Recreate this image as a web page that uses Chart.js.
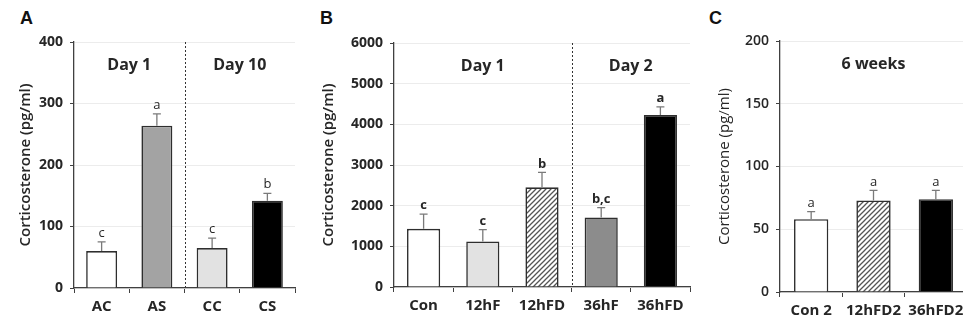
<!DOCTYPE html>
<html>
<head>
<meta charset="utf-8">
<script src="https://cdn.jsdelivr.net/npm/chart.js@4.4.1/dist/chart.umd.min.js"></script>
<style>
  html, body { margin: 0; padding: 0; background: #fff; overflow: hidden; }
  body { width: 963px; height: 325px; position: relative; }
  .panel { position: absolute; top: 0; height: 325px; }
  .letter { position: absolute; font: bold 18px 'Liberation Sans', Arial, sans-serif; color: #111; }
</style>
</head>
<body>
<div class="letter" style="left:20px;top:8px">A</div>
<div class="letter" style="left:320px;top:8px">B</div>
<div class="letter" style="left:709px;top:8px">C</div>
<div class="panel" id="wrapA" style="left:0;width:310px"><canvas id="chartA"></canvas></div>
<div class="panel" id="wrapB" style="left:310px;width:390px"><canvas id="chartB"></canvas></div>
<div class="panel" id="wrapC" style="left:700px;width:300px"><canvas id="chartC"></canvas></div>
<script>
// ── Data ─────────────────────────────────────────────────────────────
const catsA  = ['AC', 'AS', 'CC', 'CS'];
const meanA  = [60, 264, 65, 142];
const errA   = [15, 19, 16, 12];
const sigA   = ['c', 'a', 'c', 'b'];
const groupsA = [{ label: 'Day 1', from: 0, to: 1 }, { label: 'Day 10', from: 2, to: 3 }];

const catsB  = ['Con', '12hF', '12hFD', '36hF', '36hFD'];
const meanB  = [1430, 1120, 2450, 1710, 4230];
const errB   = [360, 290, 370, 240, 200];
const sigB   = ['c', 'c', 'b', 'b,c', 'a'];
const groupsB = [{ label: 'Day 1', from: 0, to: 2 }, { label: 'Day 2', from: 3, to: 4 }];

const catsC  = ['Con 2', '12hFD2', '36hFD2'];
const meanC  = [58, 73, 74];
const errC   = [6, 8, 7];
const sigC   = ['a', 'a', 'a'];
const groupsC = [{ label: '6 weeks', from: 0, to: 2 }];

const FONT = "'Open Sans', 'Noto Sans', sans-serif";
const INK  = '#262626';
const AXIS = '#404040';

// diagonal hatch fill (for the FD groups)
function hatch() {
  const c = document.createElement('canvas');
  c.width = 5; c.height = 5;
  const g = c.getContext('2d');
  g.fillStyle = '#fff'; g.fillRect(0, 0, 5, 5);
  g.strokeStyle = '#555'; g.lineWidth = 1.3;
  g.beginPath();
  g.moveTo(-1, 6); g.lineTo(6, -1);
  g.moveTo(-1, 1); g.lineTo(1, -1);
  g.moveTo(4, 6); g.lineTo(6, 4);
  g.stroke();
  return g.createPattern(c, 'repeat');
}
const HATCH = hatch();

const fillsA = ['#ffffff', '#a3a3a3', '#e2e2e2', '#000000'];
const fillsB = ['#ffffff', '#e2e2e2', HATCH, '#8c8c8c', '#000000'];
const fillsC = ['#ffffff', HATCH, '#000000'];

// ── Plugin: error bars, letters, divider, group titles ──────────────
const annotate = {
  id: 'annotate',
  afterDatasetsDraw(chart) {
    const o = chart.options.plugins.annotate;
    const { ctx, chartArea } = chart;
    const xs = chart.scales.x, ys = chart.scales.y;
    const meta = chart.getDatasetMeta(0);
    ctx.save();
    meta.data.forEach((bar, i) => {
      const top = ys.getPixelForValue(o.means[i] + o.errs[i]);
      ctx.strokeStyle = '#7a7a7a';
      ctx.lineWidth = 1.3;
      ctx.beginPath();
      ctx.moveTo(bar.x, bar.y);
      ctx.lineTo(bar.x, top);
      ctx.moveTo(bar.x - 4, top);
      ctx.lineTo(bar.x + 4, top);
      ctx.stroke();
      ctx.fillStyle = INK;
      ctx.font = `${o.letterWeight} 13px ${FONT}`;
      ctx.textAlign = 'center';
      ctx.textBaseline = 'bottom';
      ctx.fillText(o.sig[i], bar.x, top - 2);
    });
    // dashed divider between groups
    if (o.divider !== undefined) {
      const dx = Math.round((xs.getPixelForValue(o.divider) + xs.getPixelForValue(o.divider + 1)) / 2) + 0.5;
      ctx.strokeStyle = '#333';
      ctx.lineWidth = 1;
      ctx.setLineDash([2, 2]);
      ctx.beginPath();
      ctx.moveTo(dx, chartArea.top);
      ctx.lineTo(dx, chartArea.bottom);
      ctx.stroke();
      ctx.setLineDash([]);
    }
    // group titles
    ctx.font = `bold 16px ${FONT}`;
    ctx.fillStyle = INK;
    ctx.textBaseline = 'middle';
    o.groups.forEach(g => {
      const gx = (xs.getPixelForValue(g.from) + xs.getPixelForValue(g.to)) / 2;
      ctx.fillText(g.label, gx, chartArea.top + 23);
    });
    ctx.restore();
  }
};

function renderPanel(id, cfg) {
  const wrap = document.getElementById('wrap' + id);
  const left = wrap.offsetLeft;
  const padLeft = cfg.titleX - left - 13;
  new Chart(document.getElementById('chart' + id), {
    type: 'bar',
    data: {
      labels: cfg.cats,
      datasets: [{
        data: cfg.means,
        backgroundColor: cfg.fills,
        borderColor: '#2e2e2e',
        borderWidth: 1.6,
        borderSkipped: 'bottom',
        categoryPercentage: 1,
        barPercentage: cfg.barPct,
      }]
    },
    options: {
      responsive: true,
      maintainAspectRatio: false,
      animation: false,
      events: [],
      layout: {
        padding: { left: padLeft, top: cfg.top, right: left + wrap.offsetWidth - cfg.right, bottom: 0 }
      },
      plugins: {
        legend: { display: false },
        tooltip: { enabled: false },
        annotate: {
          means: cfg.means, errs: cfg.errs, sig: cfg.sig, groups: cfg.groups,
          divider: cfg.divider, letterWeight: cfg.letterWeight,
        },
      },
      scales: {
        x: {
          afterFit: s => { s.height = 325 - cfg.bottom; },
          border: { color: AXIS, width: 1.3 },
          grid: { display: true, drawOnChartArea: false, drawTicks: true, tickLength: 5, tickColor: AXIS, offset: true },
          ticks: { color: INK, padding: 5, maxRotation: 0, autoSkip: false, font: { family: FONT, size: 15, weight: 'bold' } },
        },
        y: {
          min: 0, max: cfg.max,
          afterFit: s => { s.width = cfg.axisX - left - padLeft; },
          border: { color: AXIS, width: 1.3 },
          grid: { color: '#ececec', lineWidth: 1, tickColor: AXIS, tickLength: 4 },
          ticks: {
            stepSize: cfg.step, color: INK, padding: 7,
            callback: v => String(v),
            font: { family: FONT, size: 14, weight: cfg.tickWeight },
          },
          title: {
            display: true, text: 'Corticosterone (pg/ml)', color: INK,
            font: { family: FONT, size: 15, weight: cfg.titleWeight },
          },
        },
      },
    },
    plugins: [annotate],
  });
}

renderPanel('A', {
  cats: catsA, means: meanA, errs: errA, sig: sigA, groups: groupsA, fills: fillsA,
  divider: 1, max: 400, step: 100, barPct: 0.56,
  titleX: 26, axisX: 74, right: 295, top: 42, bottom: 288,
  tickWeight: 'bold', titleWeight: '600', letterWeight: 'normal',
});
renderPanel('B', {
  cats: catsB, means: meanB, errs: errB, sig: sigB, groups: groupsB, fills: fillsB,
  divider: 2, max: 6000, step: 1000, barPct: 0.56,
  titleX: 329, axisX: 394, right: 690, top: 43, bottom: 287,
  tickWeight: 'bold', titleWeight: '600', letterWeight: 'bold',
});
renderPanel('C', {
  cats: catsC, means: meanC, errs: errC, sig: sigC, groups: groupsC, fills: fillsC,
  divider: undefined, max: 200, step: 50, barPct: 0.55,
  titleX: 725, axisX: 780, right: 967, top: 41, bottom: 292,
  tickWeight: '600', titleWeight: 'normal', letterWeight: 'normal',
});
</script>
</body>
</html>
